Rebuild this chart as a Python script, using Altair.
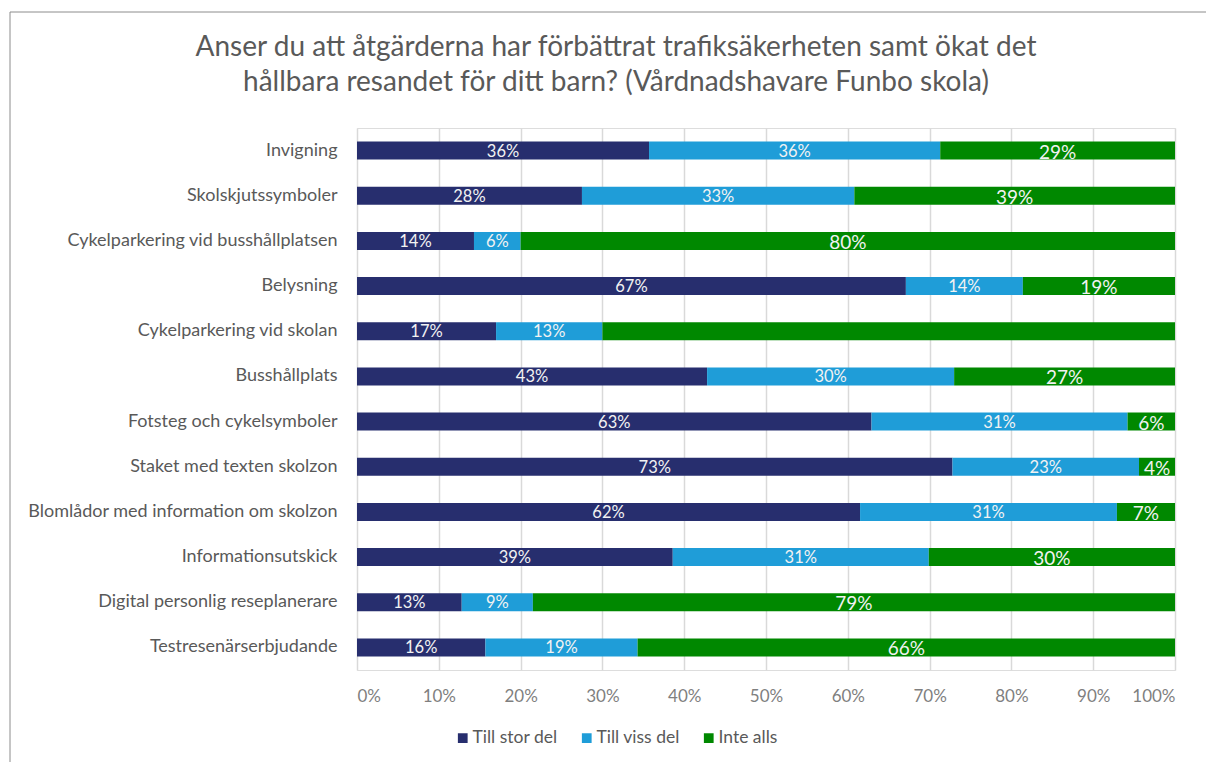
import altair as alt
import pandas as pd

title_lines = [
    "Anser du att åtgärderna har förbättrat trafiksäkerheten samt ökat det",
    "hållbara resandet för ditt barn? (Vårdnadshavare Funbo skola)",
]
categories = [
    "Invigning",
    "Skolskjutssymboler",
    "Cykelparkering vid busshållplatsen",
    "Belysning",
    "Cykelparkering vid skolan",
    "Busshållplats",
    "Fotsteg och cykelsymboler",
    "Staket med texten skolzon",
    "Blomlådor med information om skolzon",
    "Informationsutskick",
    "Digital personlig reseplanerare",
    "Testresenärserbjudande",
]
series = ["Till stor del", "Till viss del", "Inte alls"]
till_stor_del = [35.7, 27.5, 14.3, 67.1, 17.0, 42.8, 62.9, 72.8, 61.5, 38.6, 12.8, 15.7]
till_viss_del = [35.6, 33.3, 5.7, 14.3, 13.0, 30.2, 31.3, 22.8, 31.4, 31.3, 8.7, 18.6]
inte_alls = [28.7, 39.2, 80.0, 18.6, 70.0, 27.0, 5.8, 4.4, 7.1, 30.1, 78.5, 65.7]
labels_stor = ["36%", "28%", "14%", "67%", "17%", "43%", "63%", "73%", "62%", "39%", "13%", "16%"]
labels_viss = ["36%", "33%", "6%", "14%", "13%", "30%", "31%", "23%", "31%", "31%", "9%", "19%"]
labels_inte = ["29%", "39%", "80%", "19%", "", "27%", "6%", "4%", "7%", "30%", "79%", "66%"]
colors = ["#272E6E", "#1F9DD8", "#008800"]
x_ticks = [0, 10, 20, 30, 40, 50, 60, 70, 80, 90, 100]

rows = []
for s_i, (name, vals, labs) in enumerate(
    zip(series, [till_stor_del, till_viss_del, inte_alls], [labels_stor, labels_viss, labels_inte])
):
    for c, v, l in zip(categories, vals, labs):
        rows.append({"cat": c, "series": name, "ord": s_i, "value": v, "label": l,
                     "big": s_i == 2})
df = pd.DataFrame(rows)

FONT = "Lato"
GRAY = "#595959"

base = alt.Chart(df).transform_stack(
    stack="value", groupby=["cat"], as_=["x0", "x1"], sort=[alt.SortField("ord")]
).transform_calculate(mid="(datum.x0 + datum.x1) / 2")

yenc = alt.Y("cat:N", sort=categories, title=None,
             scale=alt.Scale(paddingInner=0.6, paddingOuter=0.3),
             axis=alt.Axis(labelFont=FONT, labelFontSize=18, labelColor=GRAY,
                           labelPadding=20, labelLimit=400, ticks=False, domain=False,
                           grid=False))

bars = base.mark_bar().encode(
    x=alt.X("x0:Q", title=None,
            scale=alt.Scale(domain=[0, 100], nice=False),
            axis=alt.Axis(values=x_ticks, labelExpr="datum.value + '%'",
                          labelFont=FONT, labelFontSize=17, labelColor="#7F7F7F",
                          labelPadding=18, ticks=False, domain=False,
                          grid=True, gridColor="#D9D9D9", gridWidth=1.5)),
    x2="x1:Q",
    y=yenc,
    color=alt.Color("series:N", sort=series,
                    scale=alt.Scale(domain=series, range=colors),
                    legend=alt.Legend(title=None, orient="none", direction="horizontal",
                                      legendX=97, legendY=601,
                                      symbolType="square", symbolSize=95,
                                      symbolStrokeWidth=0,
                                      labelFont=FONT, labelFontSize=17.5,
                                      labelColor=GRAY, columnPadding=20,
                                      labelOffset=1)),
)

text_small = base.transform_filter("!datum.big").mark_text(
    font=FONT, fontSize=16.5, color="#F2F2F2", baseline="middle", dy=1
).encode(x="mid:Q", y=alt.Y("cat:N", sort=categories), text="label:N")

text_big = base.transform_filter("datum.big").mark_text(
    font=FONT, fontSize=19, color="#F2F2F2", baseline="middle", dy=2
).encode(x="mid:Q", y=alt.Y("cat:N", sort=categories), text="label:N")

one = pd.DataFrame({"k": [0]})
frame_top = alt.Chart(one).mark_rule(color="#8C8C8C", strokeWidth=1).encode(
    x=alt.value(-347), x2=alt.value(860), y=alt.value(-116)
)
frame_left = alt.Chart(one).mark_rule(color="#8C8C8C", strokeWidth=1).encode(
    x=alt.value(-347), y=alt.value(-116), y2=alt.value(640)
)
title1 = alt.Chart(one).mark_text(font=FONT, fontSize=28, color=GRAY, align="center",
                                  baseline="middle").encode(
    x=alt.value(259), y=alt.value(-80), text=alt.value(title_lines[0])
)
title2 = alt.Chart(one).mark_text(font=FONT, fontSize=28, color=GRAY, align="center",
                                  baseline="middle").encode(
    x=alt.value(259), y=alt.value(-45), text=alt.value(title_lines[1])
)

chart = alt.layer(frame_top, frame_left, title1, title2, bars, text_small, text_big).properties(
    width=818,
    height=542,
    autosize=alt.AutoSizeParams(type="none"),
    padding={"left": 357, "top": 128, "right": 31, "bottom": 92},
).configure_view(strokeWidth=0).configure(background="white")

chart.save("out.html", embed_options={"renderer": "svg", "actions": False})
